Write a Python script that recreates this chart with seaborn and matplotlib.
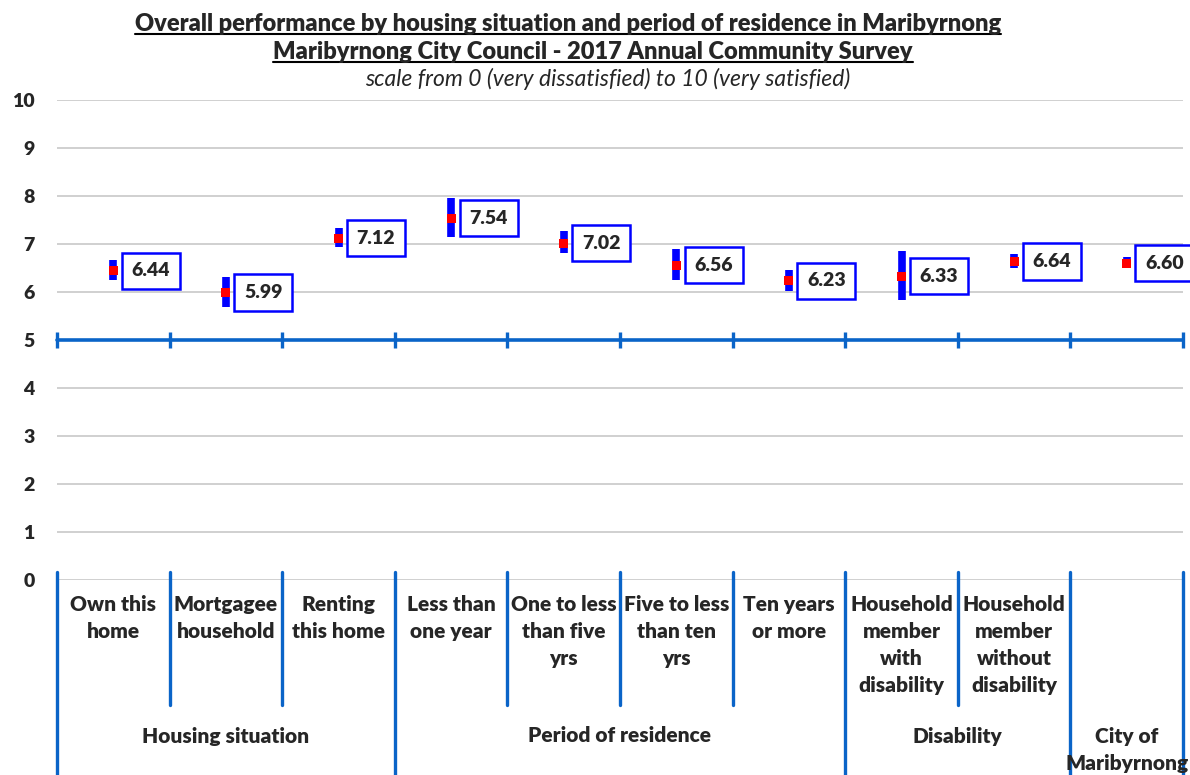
import numpy as np
import pandas as pd
import matplotlib.pyplot as plt
import matplotlib.transforms as mtransforms
from matplotlib.lines import Line2D
import seaborn as sns

# ---- data ----
categories = ["Own this\nhome", "Mortgagee\nhousehold", "Renting\nthis home",
              "Less than\none year", "One to less\nthan five\nyrs", "Five to less\nthan ten\nyrs",
              "Ten years\nor more", "Household\nmember\nwith\ndisability",
              "Household\nmember\nwithout\ndisability", ""]
means = [6.44, 5.99, 7.12, 7.54, 7.02, 6.56, 6.23, 6.33, 6.64, 6.60]
ci_low = [6.25, 5.68, 6.93, 7.15, 6.82, 6.25, 6.03, 5.83, 6.51, 6.49]
ci_high = [6.67, 6.32, 7.33, 7.95, 7.27, 6.89, 6.46, 6.86, 6.79, 6.73]
groups = ["Housing situation", "Period of residence", "Disability", "City of\nMaribyrnong"]
group_sizes = [3, 4, 2, 1]
y_ticks = list(range(0, 11))

df = pd.DataFrame({"pos": np.arange(len(means)), "mean": means,
                   "low": ci_low, "high": ci_high})

sns.set_style("white")
plt.rcParams["font.family"] = ["Lato", "DejaVu Sans"]

AXIS_BLUE = "#0A64C8"
W = "heavy"
fig = plt.figure(figsize=(11.9, 7.75), dpi=100)
ax = fig.add_axes([57 / 1190, 195 / 775, 1126 / 1190, 480 / 775])

# gridlines
ax.set_ylim(0, 10)
ax.set_xlim(-0.5, len(means) - 0.5)
ax.set_yticks(y_ticks)
ax.set_yticklabels([str(t) for t in y_ticks], fontsize=14, fontweight=W)
ax.tick_params(axis="y", length=0, pad=16)
ax.set_xticks([])
ax.yaxis.grid(True, color="#C8C8C8", lw=1.2)
ax.set_axisbelow(True)
sns.despine(ax=ax, left=True, bottom=True)

# error bars and means
ax.vlines(df["pos"], df["low"], df["high"], color="#0000FF", lw=5.5, zorder=3)
sns.scatterplot(data=df, x="pos", y="mean", marker="s", s=42, color="#FF0000",
                edgecolor="none", zorder=4, ax=ax, legend=False)
ax.set_xlabel("")
ax.set_ylabel("")

# value labels in boxes
for x, v in zip(df["pos"], df["mean"]):
    ax.annotate(f"{v:.2f}", (x, v), xytext=(27, 0), textcoords="offset points",
                ha="center", va="center", fontsize=14, fontweight=W,
                annotation_clip=False, zorder=5,
                bbox=dict(boxstyle="square,pad=0.5", fc="white", ec="#0000FF", lw=1.8))

# axis line at 5 with tick marks at category boundaries
bounds = np.arange(len(means) + 1) - 0.5
ax.plot(bounds, [5] * len(bounds), color=AXIS_BLUE, lw=2.6, marker="|",
        markersize=11, mew=2.4, clip_on=False, zorder=2)

# category separators below the plot
trans = mtransforms.blended_transform_factory(ax.transData, ax.transAxes)
group_edges = np.concatenate([[0], np.cumsum(group_sizes)]) - 0.5
for b in bounds:
    long_line = np.any(np.isclose(b, group_edges))
    y_end = -0.43 if long_line else -0.26
    ax.plot([b, b], [0.017, y_end], transform=trans, color=AXIS_BLUE, lw=2.4,
            clip_on=False)

for x, lab in zip(df["pos"], categories):
    ax.text(x, -0.032, lab, transform=trans, ha="center", va="top",
            fontsize=15, fontweight=W, linespacing=1.5)

for i, g in enumerate(groups):
    center = (group_edges[i] + group_edges[i + 1]) / 2
    ax.text(center, -0.325 if "\n" not in g else -0.354, g, transform=trans,
            ha="center", va="center", fontsize=15, fontweight=W, linespacing=1.5)

# titles
fig.text(568 / 1190, 1 - 31 / 775, "Overall performance by housing situation and period of residence in Maribyrnong",
         ha="center", va="baseline", fontsize=17, fontweight=W)
fig.text(593 / 1190, 1 - 59 / 775, "Maribyrnong City Council - 2017 Annual Community Survey",
         ha="center", va="baseline", fontsize=17, fontweight=W)
fig.text(608 / 1190, 1 - 86 / 775, "scale from 0 (very dissatisfied) to 10 (very satisfied)",
         ha="center", va="baseline", fontsize=16.5, fontstyle="italic")

# underline the first two title lines
fig.canvas.draw()
renderer = fig.canvas.get_renderer()
for t in fig.texts[:2]:
    bb = t.get_window_extent(renderer).transformed(fig.transFigure.inverted())
    y_line = t.get_position()[1] - 3 / 775
    fig.add_artist(Line2D([bb.x0, bb.x1], [y_line, y_line], color="black", lw=1.5,
                          transform=fig.transFigure))

fig.savefig("out.png", dpi=100)
